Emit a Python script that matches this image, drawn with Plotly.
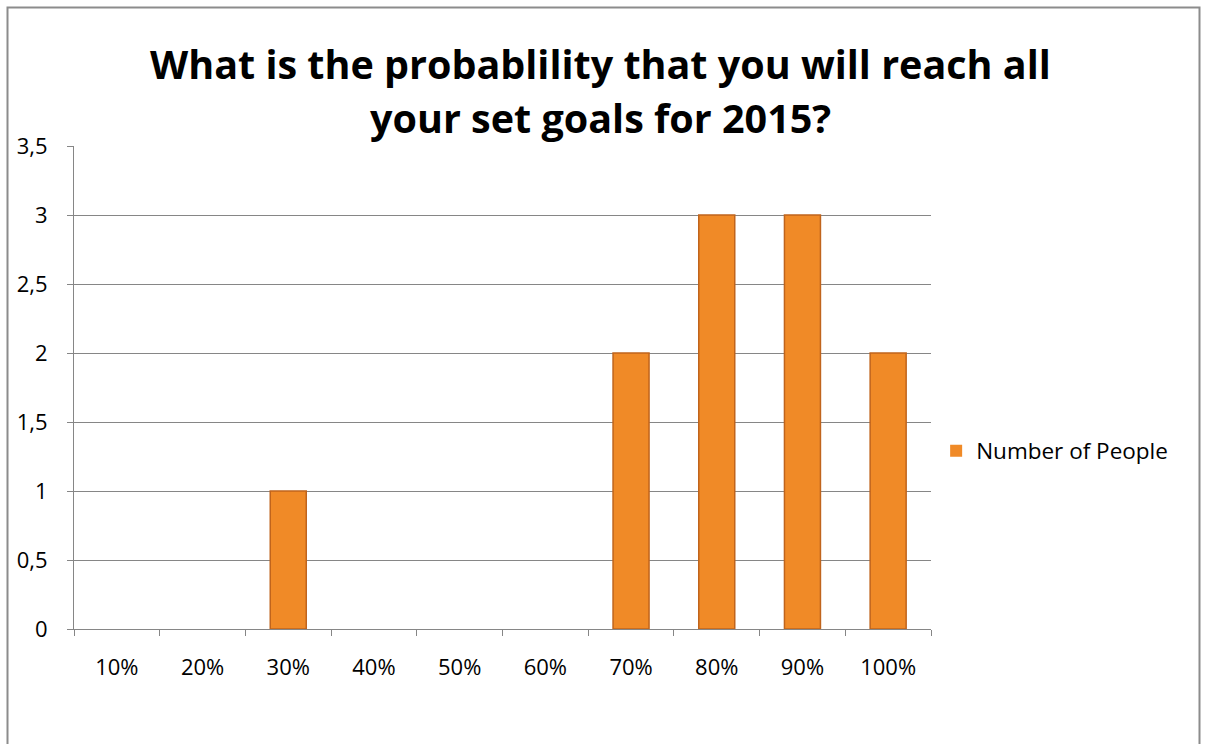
import plotly.graph_objects as go

categories = ["10%", "20%", "30%", "40%", "50%", "60%", "70%", "80%", "90%", "100%"]
people = [0, 0, 1, 0, 0, 0, 2, 3, 3, 2]
series_name = "Number of People"
title_line1 = "What is the probablility that you will reach all"
title_line2 = "your set goals for 2015?"

W, H = 1205, 744
L, R, T, B = 74, 931, 146, 629


def px(x):
    return (x - L) / (R - L)


def py(y):
    return (B - y) / (B - T)


FONT = "Open Sans"
GRID = "#868686"

fig = go.Figure()
fig.add_trace(go.Bar(
    x=categories, y=people, name=series_name,
    width=0.42,
    marker=dict(color="#F08A27",
                line=dict(color="#C0641C", width=[1.5 if v else 0 for v in people])),
    showlegend=True,
))

fig.update_layout(
    width=W, height=H,
    margin=dict(l=L, r=W - R, t=T, b=H - B, pad=0),
    paper_bgcolor="white", plot_bgcolor="white",
    separators=", ",
    font=dict(family=FONT, size=22, color="black"),
    showlegend=True,
    legend=dict(x=1.006, y=0.3685, xanchor="left", yanchor="middle",
                font=dict(family=FONT, size=22.5, color="black"),
                bgcolor="rgba(0,0,0,0)"),
    xaxis=dict(
        type="category", range=[-0.5, 9.5],
        showline=True, linecolor=GRID, linewidth=1,
        ticks="outside", tickson="boundaries", ticklen=6, tickcolor=GRID, tickwidth=1,
        showgrid=False, ticklabelstandoff=19,
        tickfont=dict(family=FONT, size=22, color="black"),
    ),
    yaxis=dict(
        range=[0, 3.5], dtick=0.5, tick0=0,
        showline=True, linecolor=GRID, linewidth=1,
        ticks="outside", ticklen=6, tickcolor=GRID, tickwidth=1,
        showgrid=True, gridcolor=GRID, gridwidth=1,
        zeroline=False, ticklabelstandoff=15,
        tickfont=dict(family=FONT, size=22, color="black"),
    ),
    shapes=[dict(type="rect", xref="paper", yref="paper",
                 x0=px(7.5), x1=px(1199.5), y0=py(770), y1=py(7.5),
                 line=dict(color="#8c8c8c", width=2), fillcolor="rgba(0,0,0,0)",
                 layer="below")],
    annotations=[
        dict(text="<b>" + title_line1 + "</b>", xref="paper", yref="paper",
             x=px(600), y=py(64), xanchor="center", yanchor="middle", showarrow=False,
             font=dict(family=FONT, size=39.5, color="black")),
        dict(text="<b>" + title_line2 + "</b>", xref="paper", yref="paper",
             x=px(600), y=py(118), xanchor="center", yanchor="middle", showarrow=False,
             font=dict(family=FONT, size=39.5, color="black")),
    ],
)

fig.write_html("out.html")
